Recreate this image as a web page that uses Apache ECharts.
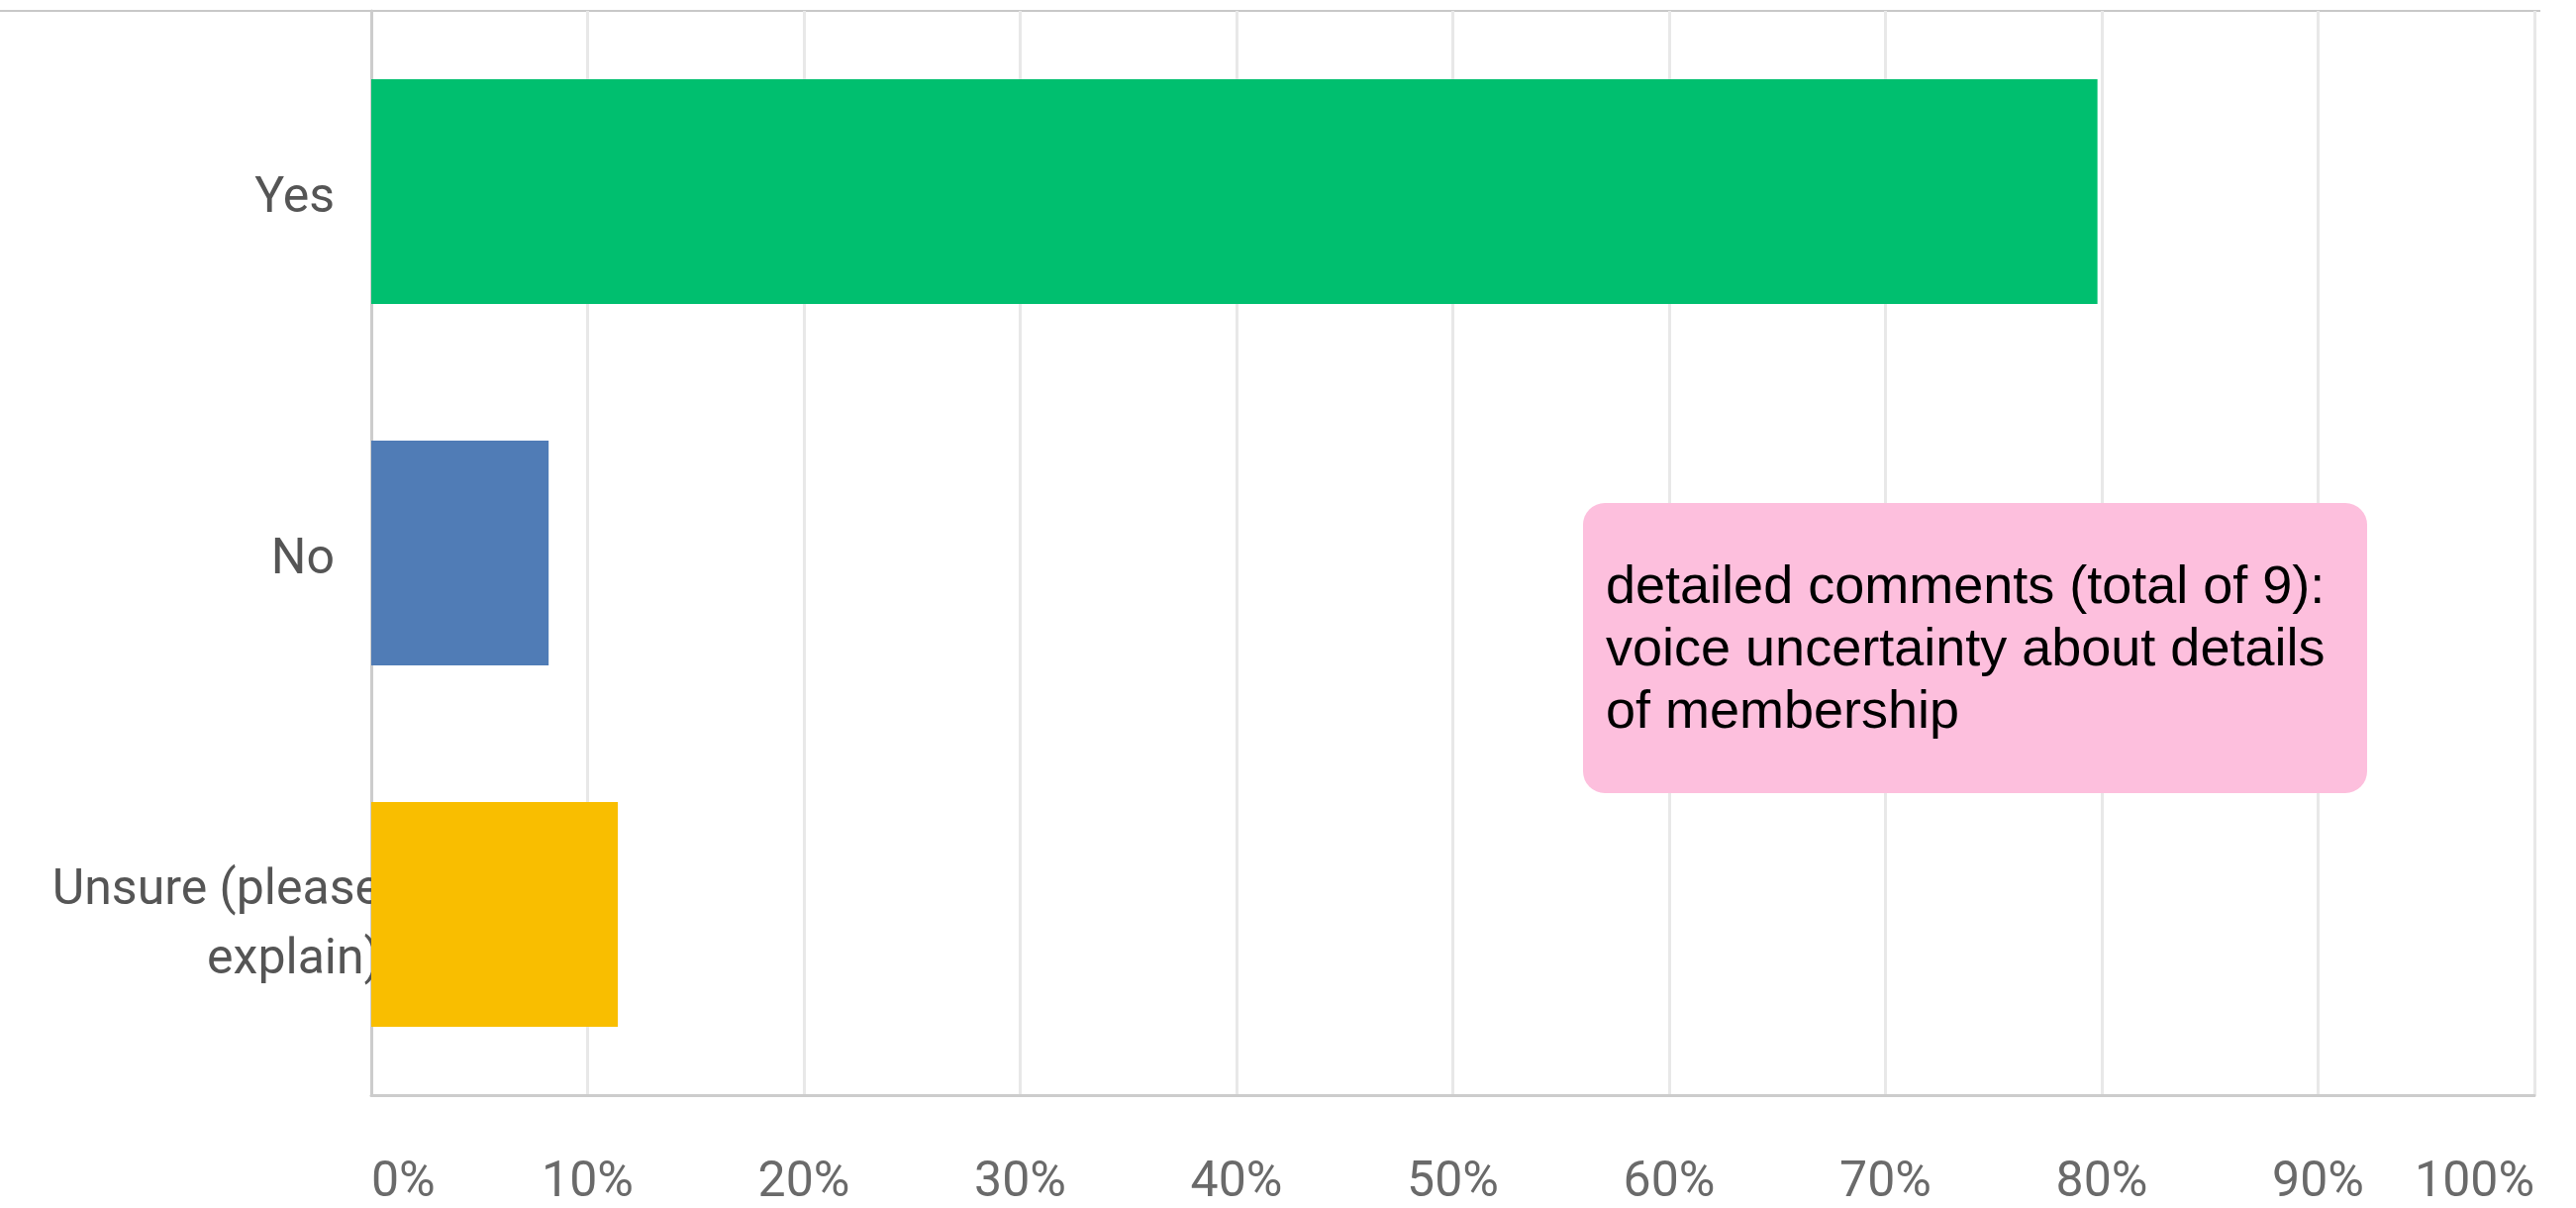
<!DOCTYPE html>
<html>
<head>
<meta charset="utf-8">
<title>Survey answers</title>
<script src="https://cdn.jsdelivr.net/npm/echarts@6/dist/echarts.min.js"></script>
<style>
  html, body { margin: 0; padding: 0; background: #fff; }
  #chart { width: 2602px; height: 1220px; }
</style>
</head>
<body>
<div id="chart"></div>
<script>
// answers, top to bottom
var answers = ['Yes', 'No', 'Unsure (please\nexplain)'];
var percents = [79.8, 8.2, 11.4];
var barColors = ['#00bf6f', '#507cb6', '#f9be00'];
var xTicks = [0, 100, 10]; // min, max, step
var noteLines = [
  'detailed comments (total of 9):',
  'voice uncertainty about details',
  'of membership'
];

var chart = echarts.init(document.getElementById('chart'));

var option = {
  backgroundColor: '#ffffff',
  animation: false,
  grid: { left: 375, right: 42, top: 11, bottom: 111, containLabel: false },
  xAxis: {
    type: 'value',
    min: xTicks[0],
    max: xTicks[1],
    interval: xTicks[2],
    axisLine: { show: true, lineStyle: { color: '#cccccc', width: 3 } },
    axisTick: { show: false },
    splitLine: { show: true, lineStyle: { color: '#e8e8e8', width: 3 } },
    axisLabel: {
      formatter: '{value}%',
      fontFamily: 'Roboto',
      fontSize: 50,
      color: '#6a6a6a',
      margin: 64,
      alignMinLabel: 'left',
      alignMaxLabel: 'right'
    }
  },
  yAxis: {
    type: 'category',
    inverse: true,
    data: answers.map(function (a, i) {
      // the long one sticks out over the axis line
      if (i === 2) {
        return { value: a, textStyle: { padding: [0, -47, 0, 0] } };
      }
      // nudge the short ones a little below the bar middle
      return { value: a, textStyle: { verticalAlign: 'top', lineHeight: 16 } };
    }),
    axisLine: { show: true, lineStyle: { color: '#cccccc', width: 3 } },
    axisTick: { show: false },
    axisLabel: {
      fontFamily: 'Roboto',
      fontSize: 50,
      lineHeight: 70,
      color: '#555555',
      margin: 37,
      formatter: function (val) {
        if (val.indexOf('\n') < 0) return val;
        // spacer line pushes the two-line label down a bit
        return '{s| }\n' + val.split('\n').map(function (l) {
          return '{u|' + l + '}';
        }).join('\n');
      },
      rich: {
        s: { fontSize: 2, lineHeight: 24 },
        u: { fontFamily: 'Roboto', fontSize: 50, lineHeight: 70, color: '#555555' }
      }
    }
  },
  series: [{
    type: 'bar',
    barWidth: 227,
    data: percents.map(function (v, i) {
      return { value: v, itemStyle: { color: barColors[i] } };
    })
  }],
  graphic: [
    {
      type: 'line',
      shape: { x1: 0, y1: 11, x2: 2566, y2: 11 },
      style: { stroke: '#c8c8c8', lineWidth: 2 }
    },
    {
      type: 'rect',
      left: 1599, top: 508,
      shape: { width: 792, height: 293, r: 22 },
      style: { fill: '#fdbfdd' },
      z: 10
    },
    {
      type: 'text',
      left: 1622, top: 563,
      style: {
        text: noteLines.join('\n'),
        fontFamily: 'Liberation Sans',
        fontSize: 54,
        lineHeight: 63,
        fill: '#000000'
      },
      z: 11
    }
  ]
};

chart.setOption(option);
</script>
</body>
</html>
